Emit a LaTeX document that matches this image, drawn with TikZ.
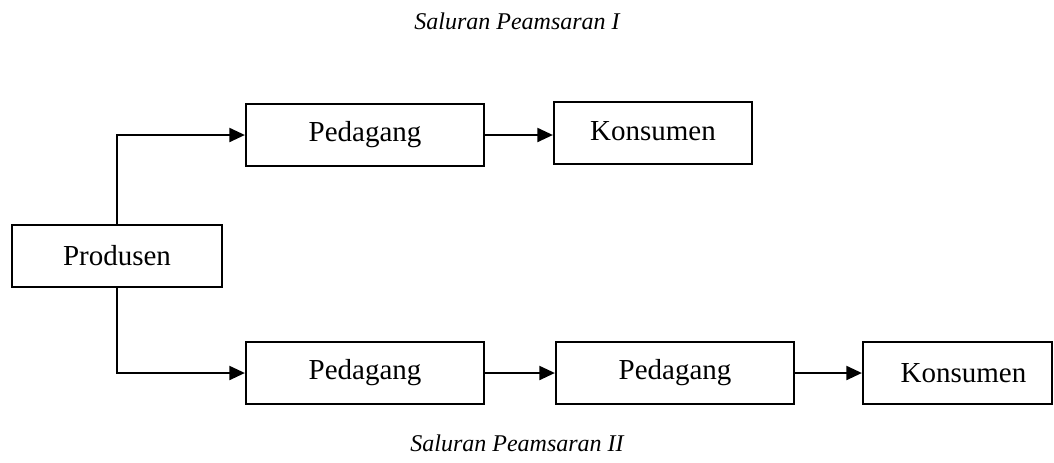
\documentclass[tikz,border=0pt]{standalone}
\usepackage{fontspec}
\setmainfont{Liberation Serif}
\usetikzlibrary{positioning,arrows.meta}

\begin{document}
\begin{tikzpicture}[
          x=0.5pt, y=-0.5pt,
          >={Triangle[length=7.8pt,width=7pt]}, line width=1.1pt,
          box/.style={draw, minimum width=119pt, minimum height=31pt,
                      inner sep=0pt, align=center,
                      font=\fontsize{14.5}{17}\selectfont},
          caption/.style={font=\fontsize{12}{14}\selectfont\itshape}
        ]
        \useasboundingbox (0,0) rectangle (1054,462);

        \node[caption] (capI) at (517,21) {Saluran Peamsaran I};
        \node[caption] (capII) at (517,443) {Saluran Peamsaran II};

        \node[box, minimum width=105pt] (prod) at (117,256) {Produsen};

        % saluran I
        \node[box] (pedA) at (365,135) {Pedagang};
        \node[box, minimum width=99pt] (konA) at (653,133)
              {\raisebox{2.5pt}{Konsumen}};

        % saluran II
        \node[box] (pedB) at (365,373) {Pedagang};
        \node[box] (pedC) at (675,373) {Pedagang};
        \node[box, minimum width=94.5pt] (konB) at (957.5,373)
              {\hspace{6pt}Konsumen};

        \draw[->] (prod.north) |- (pedA.west);
        \draw[->] (pedA.east) -- (pedA.east -| konA.west);
        \draw[->] (prod.south) |- (pedB.west);
        \draw[->] (pedB) -- (pedC);
        \draw[->] (pedC) -- (konB);
      \end{tikzpicture}
\end{document}
